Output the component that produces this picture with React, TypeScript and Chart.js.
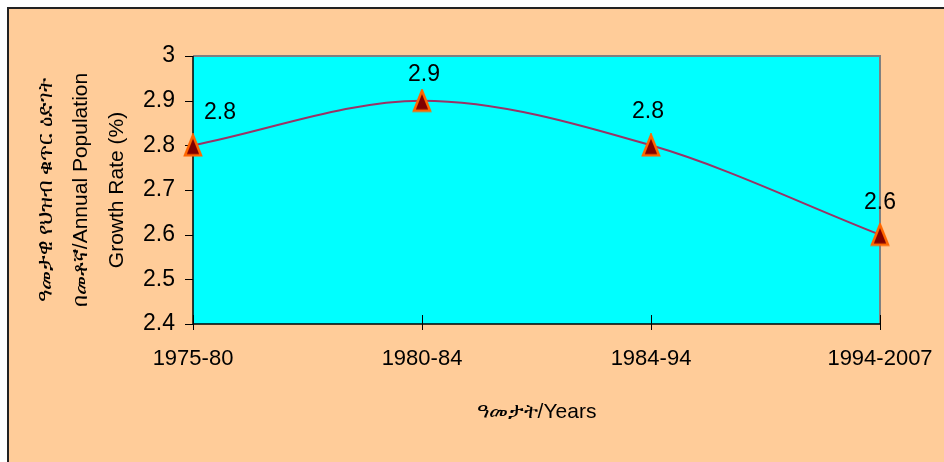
import React, { useEffect, useRef } from "react";
import { Chart, registerables } from "chart.js";

Chart.register(...registerables);

const categories = ["1975-80", "1980-84", "1984-94", "1994-2007"];
const growthRates = [2.8, 2.9, 2.8, 2.6];
const yTitleLines = [
  "ዓመታዊ የህዝብ ቁጥር ዕድገት",
  "በመቶኛ/Annual Population",
  "Growth Rate (%)",
];
const xTitle = "ዓመታት/Years";
const yMin = 2.4;
const yMax = 3;
const yStep = 0.1;

const PLOT = { left: 193, right: 880, top: 56, bottom: 324 };
const labelOffsets = [
  { dx: 27, dy: -33 },
  { dx: 2, dy: -26 },
  { dx: -3, dy: -34 },
  { dx: 0, dy: -32 },
];
const FONT = "'Liberation Sans', Arial, sans-serif";

function makeTriangle(): HTMLCanvasElement {
  const c = document.createElement("canvas");
  c.width = 20;
  c.height = 24;
  const g = c.getContext("2d")!;
  g.beginPath();
  g.moveTo(10, 2);
  g.lineTo(2, 22);
  g.lineTo(18, 22);
  g.closePath();
  g.fillStyle = "#800000";
  g.fill();
  g.lineJoin = "miter";
  g.strokeStyle = "#FF6600";
  g.lineWidth = 2.5;
  g.stroke();
  return c;
}

const plotAreaPlugin = {
  id: "plotArea",
  beforeDraw(chart: any) {
    const { ctx, chartArea: a } = chart;
    ctx.save();
    ctx.fillStyle = "#00FFFF";
    ctx.fillRect(a.left, a.top, a.right - a.left, a.bottom - a.top);
    ctx.restore();
  },
  beforeDatasetsDraw(chart: any) {
    const { ctx, chartArea: a } = chart;
    const xs = chart.scales.x;
    const ys = chart.scales.y;
    ctx.save();
    ctx.strokeStyle = "#808080";
    ctx.lineWidth = 2;
    ctx.beginPath();
    ctx.moveTo(a.left, a.top);
    ctx.lineTo(a.right, a.top);
    ctx.lineTo(a.right, a.bottom);
    ctx.stroke();
    ctx.strokeStyle = "#000000";
    ctx.lineWidth = 1.5;
    ctx.beginPath();
    ctx.moveTo(a.left, a.top);
    ctx.lineTo(a.left, a.bottom);
    ctx.lineTo(a.right, a.bottom);
    ctx.stroke();
    ctx.lineWidth = 1;
    ctx.beginPath();
    ys.ticks.forEach((_t: any, i: number) => {
      const y = Math.round(ys.getPixelForTick(i)) + 0.5;
      ctx.moveTo(a.left - 8, y);
      ctx.lineTo(a.left, y);
    });
    xs.ticks.forEach((_t: any, i: number) => {
      const x = Math.round(xs.getPixelForTick(i)) + 0.5;
      ctx.moveTo(x, a.bottom - 9);
      ctx.lineTo(x, a.bottom + 6);
    });
    ctx.stroke();
    ctx.restore();
  },
  afterDatasetsDraw(chart: any) {
    const { ctx } = chart;
    const meta = chart.getDatasetMeta(0);
    ctx.save();
    ctx.fillStyle = "#000000";
    ctx.font = "23px " + FONT;
    ctx.textAlign = "center";
    ctx.textBaseline = "middle";
    meta.data.forEach((pt: any, i: number) => {
      const off = labelOffsets[i] || { dx: 0, dy: -30 };
      ctx.fillText(String(growthRates[i]), pt.x + off.dx, pt.y + off.dy);
    });
    ctx.restore();
  },
};

export default function App() {
  const ref = useRef<HTMLCanvasElement>(null);

  useEffect(() => {
    if (!ref.current) return;
    const tri = makeTriangle();
    const chart = new Chart(ref.current, {
      type: "line",
      data: {
        labels: categories,
        datasets: [
          {
            data: growthRates,
            borderColor: "#993366",
            borderWidth: 2,
            tension: 0.33,
            pointStyle: tri,
            pointRadius: 10,
            fill: false,
            clip: false,
          },
        ],
      },
      options: {
        responsive: false,
        animation: false,
        events: [],
        layout: {
          padding: {
            left: 0,
            top: PLOT.top,
            right: 944 - PLOT.right,
            bottom: 0,
          },
        },
        plugins: {
          legend: { display: false },
          tooltip: { enabled: false },
        },
        scales: {
          x: {
            type: "category",
            offset: false,
            grid: { display: false, drawTicks: false },
            border: { display: false },
            ticks: {
              color: "#000000",
              padding: 22,
              maxRotation: 0,
              autoSkip: false,
              font: { family: FONT, size: 22 },
            },
            title: {
              display: true,
              text: xTitle,
              color: "#000000",
              padding: { top: 0, bottom: 37 },
              font: { family: FONT, size: 21 },
            },
            afterFit(scale: any) {
              scale.height = 462 - PLOT.bottom;
              scale.paddingLeft = 0;
              scale.paddingRight = 0;
            },
          },
          y: {
            min: yMin,
            max: yMax,
            grid: { display: false, drawTicks: false },
            border: { display: false },
            ticks: {
              stepSize: yStep,
              color: "#000000",
              padding: 18,
              font: { family: FONT, size: 23 },
              callback: (v: any) => String(Number(Number(v).toFixed(1))),
            },
            title: {
              display: true,
              text: yTitleLines,
              color: "#000000",
              padding: { top: 28, bottom: 0 },
              font: { family: FONT, size: 21, lineHeight: 1.7 },
            },
            afterFit(scale: any) {
              scale.width = PLOT.left;
              scale.paddingTop = 0;
              scale.paddingBottom = 0;
            },
          },
        },
      },
      plugins: [plotAreaPlugin],
    } as any);
    return () => chart.destroy();
  }, []);

  return (
    <div style={{ position: "absolute", left: 0, top: 0, width: 944, height: 462, overflow: "hidden", background: "#ffffff" }}>
      <div
        style={{
          position: "absolute",
          left: 7,
          top: 7,
          width: 960,
          height: 480,
          background: "#FFCC99",
          borderLeft: "2px solid #222",
          borderTop: "2px solid #222",
        }}
      />
      <canvas ref={ref} width={944} height={462} style={{ position: "absolute", left: 0, top: 0, width: 944, height: 462 }} />
    </div>
  );
}
